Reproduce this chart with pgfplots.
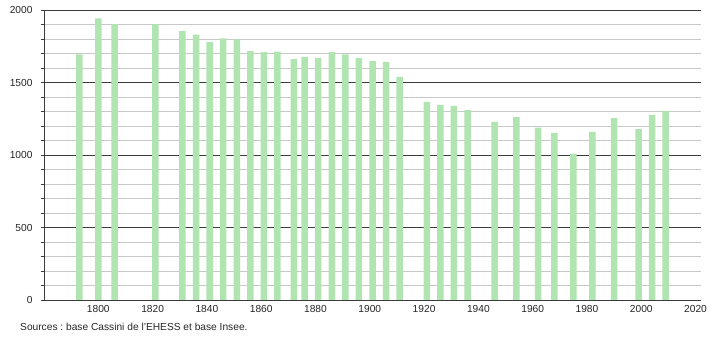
\documentclass[border=0pt]{standalone}
\usepackage{pgfplots}
\pgfplotsset{compat=1.18}
\usepackage{fontspec}
\setmainfont{Liberation Sans}
\frenchspacing
\definecolor{barg}{RGB}{176,228,176}
\definecolor{majg}{RGB}{60,60,60}
\definecolor{ming}{RGB}{200,200,200}
\begin{document}
\begin{tikzpicture}
\path[use as bounding box] (0,0) rectangle (710pt,340pt);
\begin{axis}[
  at={(44pt,40pt)}, anchor=south west,
  scale only axis, width=657pt, height=290pt,
  xmin=1780, xmax=2022, ymin=0, ymax=2000,
  axis x line*=bottom, axis y line*=left,
  axis line style={majg, line width=0.8pt},
  xtick={1800,1820,...,2020},
  ytick={0,500,...,2000},
  minor y tick num=4,
  ymajorgrids, yminorgrids,
  major grid style={majg, line width=0.7pt},
  minor grid style={ming, line width=0.7pt},
  tick align=outside,
  major tick length=3pt, minor tick length=3pt,
  y tick style={majg, line width=0.7pt},
  x tick style={draw=none},
  xticklabel style={/pgf/number format/1000 sep={}, font=\fontsize{10.2}{12}\selectfont, text=black!85, yshift=1pt},
  yticklabel style={/pgf/number format/1000 sep={}, font=\fontsize{10.2}{12}\selectfont, text=black!85, xshift=-5pt},
  /pgf/number format/assume math mode=true,
  ybar, bar width=6.5pt,
  clip=false,
]
\addplot[fill=barg, draw=none] coordinates {
(1793,1694) (1800,1943) (1806,1903) (1821,1903) (1831,1855) (1836,1830)
(1841,1779) (1846,1805) (1851,1798) (1856,1717) (1861,1710) (1866,1713)
(1872,1662) (1876,1676) (1881,1669) (1886,1710) (1891,1694) (1896,1669)
(1901,1648) (1906,1641) (1911,1538) (1921,1366) (1926,1345) (1931,1338)
(1936,1310) (1946,1228) (1954,1262) (1962,1188) (1968,1152) (1975,1007)
(1982,1159) (1990,1255) (1999,1179) (2004,1276) (2009,1303)
};
\end{axis}
\node[anchor=west, inner sep=0pt, font=\fontsize{10.2}{12}\selectfont, text=black!85] at (20pt,13pt) {Sources : base Cassini de l'EHESS et base Insee.};
\end{tikzpicture}
\end{document}
